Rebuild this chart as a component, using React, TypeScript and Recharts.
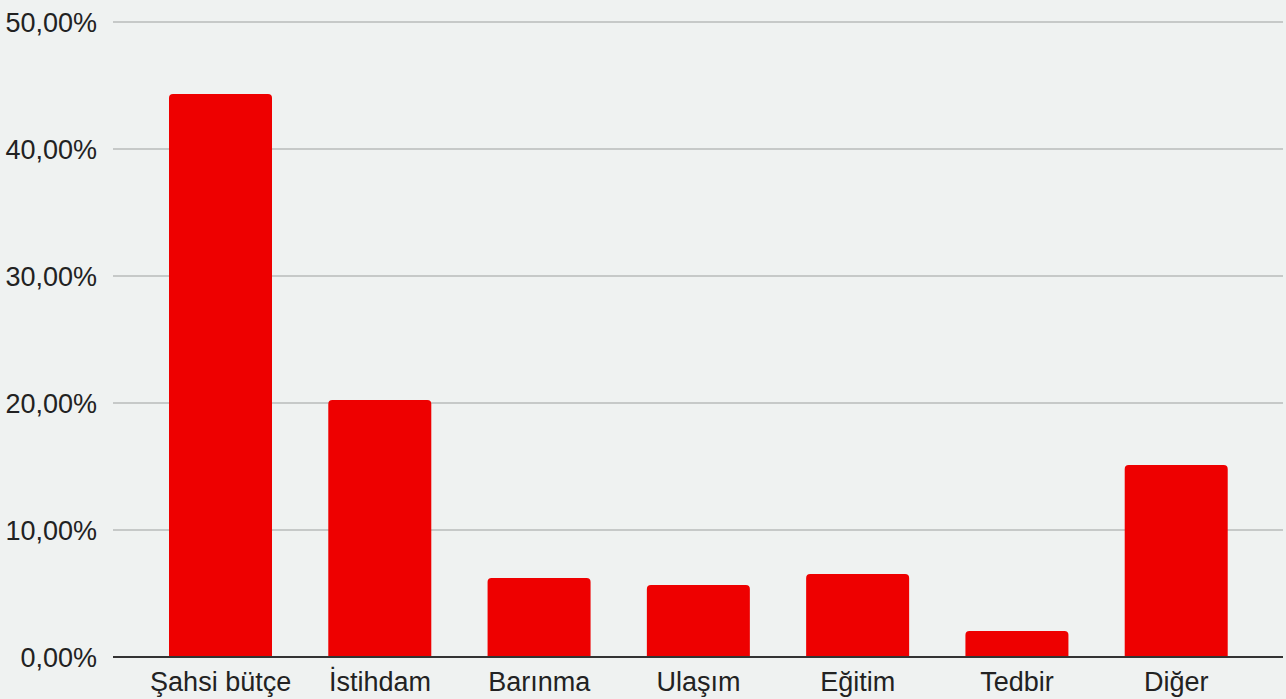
import { BarChart, Bar, XAxis, YAxis, CartesianGrid } from "recharts";

const categories = ["Şahsi bütçe", "İstihdam", "Barınma", "Ulaşım", "Eğitim", "Tedbir", "Diğer"];
const shares = [44.33, 20.24, 6.22, 5.67, 6.54, 2.05, 15.12];
const yTicks = [0, 10, 20, 30, 40, 50];

const data = categories.map((name, i) => ({ name, value: shares[i] }));

const fmt = (v: number) => v.toFixed(2).replace(".", ",") + "%";

const tickStyle = { fontSize: 27, fill: "#222", fontFamily: "Liberation Sans, Arial, sans-serif" };

export default function App() {
  return (
    <div style={{ position: "fixed", left: 0, top: 0, width: 1286, height: 699, background: "#eff2f1" }}>
      <BarChart width={1286} height={699} data={data} margin={{ top: 22, right: 3, left: 0, bottom: 0 }} barCategoryGap={28}>
        <CartesianGrid vertical={false} stroke="#c6c9c8" strokeWidth={2} />
        <XAxis
          dataKey="name"
          height={42}
          tick={tickStyle}
          tickLine={false}
          tickMargin={9}
          axisLine={{ stroke: "#333", strokeWidth: 2 }}
          padding={{ left: 28, right: 27 }}
          interval={0}
        />
        <YAxis
          width={113}
          domain={[0, 50]}
          ticks={yTicks}
          tickFormatter={fmt}
          tick={tickStyle}
          tickLine={false}
          axisLine={false}
          tickMargin={10}
        />
        <Bar dataKey="value" fill="#ee0000" radius={[4, 4, 0, 0]} isAnimationActive={false} />
      </BarChart>
    </div>
  );
}
